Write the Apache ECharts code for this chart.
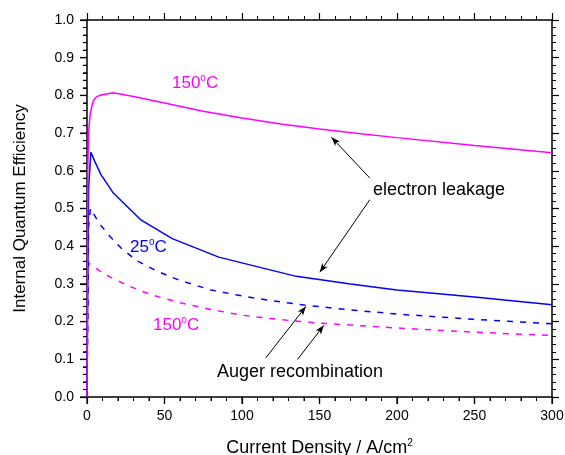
<!DOCTYPE html>
<html>
<head>
<meta charset="utf-8">
<script src="https://cdn.jsdelivr.net/npm/echarts@6/dist/echarts.min.js"></script>
<style>
  html, body { margin: 0; padding: 0; background: #fff; }
  #main { width: 565px; height: 455px; }
</style>
</head>
<body>
<div id="main"></div>
<script>
// IQE vs current density
var leak150 = [[0, 0], [0.5, 0.6], [1, 0.7], [2, 0.75], [4, 0.785], [6, 0.796], [9, 0.801], [17, 0.807],
  [30, 0.797], [50, 0.78], [75, 0.758], [100, 0.74], [125, 0.724], [150, 0.711], [175, 0.699],
  [200, 0.688], [250, 0.667], [300, 0.648]];
var leak25 = [[0, 0], [1, 0.55], [2.5, 0.649], [5, 0.625], [9, 0.59], [17, 0.541], [35, 0.469],
  [55, 0.42], [85, 0.371], [135, 0.32], [170, 0.3], [200, 0.284], [250, 0.265], [300, 0.245]];
var auger25 = [[0, 0], [1, 0.45], [2.2, 0.5], [8, 0.46], [15, 0.425], [22, 0.395], [32, 0.362],
  [45, 0.334], [60, 0.309], [80, 0.284], [100, 0.268], [120, 0.255], [140, 0.244], [170, 0.231],
  [200, 0.22], [250, 0.206], [300, 0.194]];
var auger150 = [[0, 0], [0.5, 0.3], [1, 0.355], [8, 0.335], [15, 0.318], [25, 0.298], [35, 0.281],
  [45, 0.267], [60, 0.25], [80, 0.232], [100, 0.217], [125, 0.205], [150, 0.196], [200, 0.183],
  [250, 0.172], [300, 0.163]];

// axis ranges / tick steps
var xRange = [0, 300], xStep = 50;
var yRange = [0, 1], yStep = 0.1;
var minorSplit = 5;

// arrows: [from, to] in data coords
var leakArrows = [[[182.4, 0.581], [157.7, 0.689]], [[182.4, 0.523], [150.2, 0.331]]];
var augerArrows = [[[115.4, 0.104], [141.2, 0.24]], [[135.8, 0.0995], [152.8, 0.19]]];

var FONT = 'Liberation Sans, Arial, sans-serif';
var myChart = echarts.init(document.getElementById('main'));

// axis used only for the frame line + ticks
function tickAxis(extra) {
  return Object.assign({
    type: 'value',
    axisLine: { show: true, onZero: false, lineStyle: { color: '#000', width: 1.5 } },
    axisTick: { show: true, inside: false, length: 7, lineStyle: { color: '#000', width: 1.2 } },
    minorTick: { show: true, splitNumber: minorSplit, length: 4, lineStyle: { color: '#000', width: 1 } },
    splitLine: { show: false },
    axisLabel: { show: false }
  }, extra);
}

// axis used only for labels + name
function labelAxis(extra) {
  return Object.assign({
    type: 'value',
    axisLine: { show: false, onZero: false },
    axisTick: { show: false },
    splitLine: { show: false }
  }, extra);
}

function arrowLines(list) {
  return list.map(function (a) {
    return [{ coord: a[0] }, { coord: a[1] }];
  });
}

var supRich = function (color, size) {
  return {
    a: { fontSize: size, color: color, fill: color, lineHeight: 20 },
    s: { fontSize: 10, color: color, fill: color, lineHeight: 10, verticalAlign: 'top' }
  };
};

function degLabel(num, color, x, y) {
  var rich = supRich(color, 17);
  rich.a.fontFamily = FONT;
  rich.s.fontFamily = FONT;
  return {
    type: 'text', left: x, top: y, silent: true,
    style: { text: '{a|' + num + '}{s|o}{a|C}', fill: color, font: '17px ' + FONT, rich: rich }
  };
}

var labels = [
  degLabel('150', '#ff00ff', 172, 73),
  degLabel('25', '#0000ff', 130, 237),
  degLabel('150', '#ff00ff', 153, 315),
  {
    type: 'text', left: 373, top: 181, silent: true,
    style: { text: 'electron leakage', fill: '#000', font: '18px ' + FONT }
  },
  {
    type: 'text', left: 217, top: 363, silent: true,
    style: { text: 'Auger recombination', fill: '#000', font: '18px ' + FONT }
  }
];

myChart.setOption({
  animation: false,
  textStyle: { fontFamily: FONT },
  grid: { left: 87, right: 13, top: 20, bottom: 58, outerBoundsMode: 'none' },
  xAxis: [
    labelAxis({
      min: xRange[0], max: xRange[1], interval: xStep, position: 'bottom',
      axisLabel: { show: true, color: '#000', fontSize: 14, margin: 12 },
      name: '{a|Current Density / A/cm}{s|2}',
      nameLocation: 'middle', nameGap: 41,
      nameTextStyle: { rich: supRich('#000', 18) }
    }),
    tickAxis({ min: xRange[0], max: xRange[1], interval: xStep, position: 'bottom' }),
    tickAxis({ min: xRange[0], max: xRange[1], interval: xStep, position: 'top' })
  ],
  yAxis: [
    labelAxis({
      min: yRange[0], max: yRange[1], interval: yStep, position: 'left',
      axisLabel: {
        show: true, color: '#000', fontSize: 14, margin: 13,
        formatter: function (v) { return v.toFixed(1); }
      },
      name: 'Internal Quantum Efficiency',
      nameLocation: 'middle', nameGap: 58,
      nameTextStyle: { fontSize: 17, color: '#000' }
    }),
    tickAxis({ min: yRange[0], max: yRange[1], interval: yStep, position: 'left' }),
    tickAxis({ min: yRange[0], max: yRange[1], interval: yStep, position: 'right' })
  ],
  series: [
    {
      name: 'Auger 150C', type: 'line', data: auger150, showSymbol: false,
      lineStyle: { color: '#ff00ff', width: 1.5, type: [6, 7] }, itemStyle: { color: '#ff00ff' }
    },
    {
      name: 'Auger 25C', type: 'line', data: auger25, showSymbol: false,
      lineStyle: { color: '#0000ff', width: 1.5, type: [6, 7] }, itemStyle: { color: '#0000ff' },
      markLine: {
        silent: true, symbol: ['none', 'arrow'], symbolSize: [5, 9],
        label: { show: false },
        lineStyle: { color: '#000', width: 1, type: 'solid' },
        data: arrowLines(augerArrows)
      }
    },
    {
      name: 'Leakage 25C', type: 'line', data: leak25, showSymbol: false,
      lineStyle: { color: '#0000ff', width: 1.5 }, itemStyle: { color: '#0000ff' }
    },
    {
      name: 'Leakage 150C', type: 'line', data: leak150, showSymbol: false,
      lineStyle: { color: '#ff00ff', width: 1.5 }, itemStyle: { color: '#ff00ff' },
      markLine: {
        silent: true, symbol: ['none', 'arrow'], symbolSize: [5, 9],
        label: { show: false },
        lineStyle: { color: '#000', width: 1, type: 'solid' },
        data: arrowLines(leakArrows)
      }
    }
  ],
  graphic: labels
});

// the bottom/left outward ticks don't show up in this build, so draw them
// from the same axes through convertToPixel
(function () {
  var extra = [];
  var bottom = myChart.convertToPixel({ yAxisIndex: 1 }, yRange[0]);
  var left = myChart.convertToPixel({ xAxisIndex: 1 }, xRange[0]);
  function tick(shape, major) {
    extra.push({
      type: 'line', silent: true, z: 100, shape: shape,
      style: { stroke: '#000', lineWidth: major ? 1.2 : 1 }
    });
  }
  var n = Math.round((xRange[1] - xRange[0]) / xStep * minorSplit);
  for (var i = 0; i <= n; i++) {
    var x = myChart.convertToPixel({ xAxisIndex: 1 }, xRange[0] + i * xStep / minorSplit);
    var len = i % minorSplit === 0 ? 7 : 4;
    tick({ x1: x, y1: bottom, x2: x, y2: bottom + len }, len === 7);
  }
  var m = Math.round((yRange[1] - yRange[0]) / yStep * minorSplit);
  for (var j = 0; j <= m; j++) {
    var y = myChart.convertToPixel({ yAxisIndex: 1 }, yRange[0] + j * yStep / minorSplit);
    var len2 = j % minorSplit === 0 ? 7 : 4;
    tick({ x1: left, y1: y, x2: left - len2, y2: y }, len2 === 7);
  }
  myChart.setOption({ graphic: labels.concat(extra) });
})();
</script>
</body>
</html>
